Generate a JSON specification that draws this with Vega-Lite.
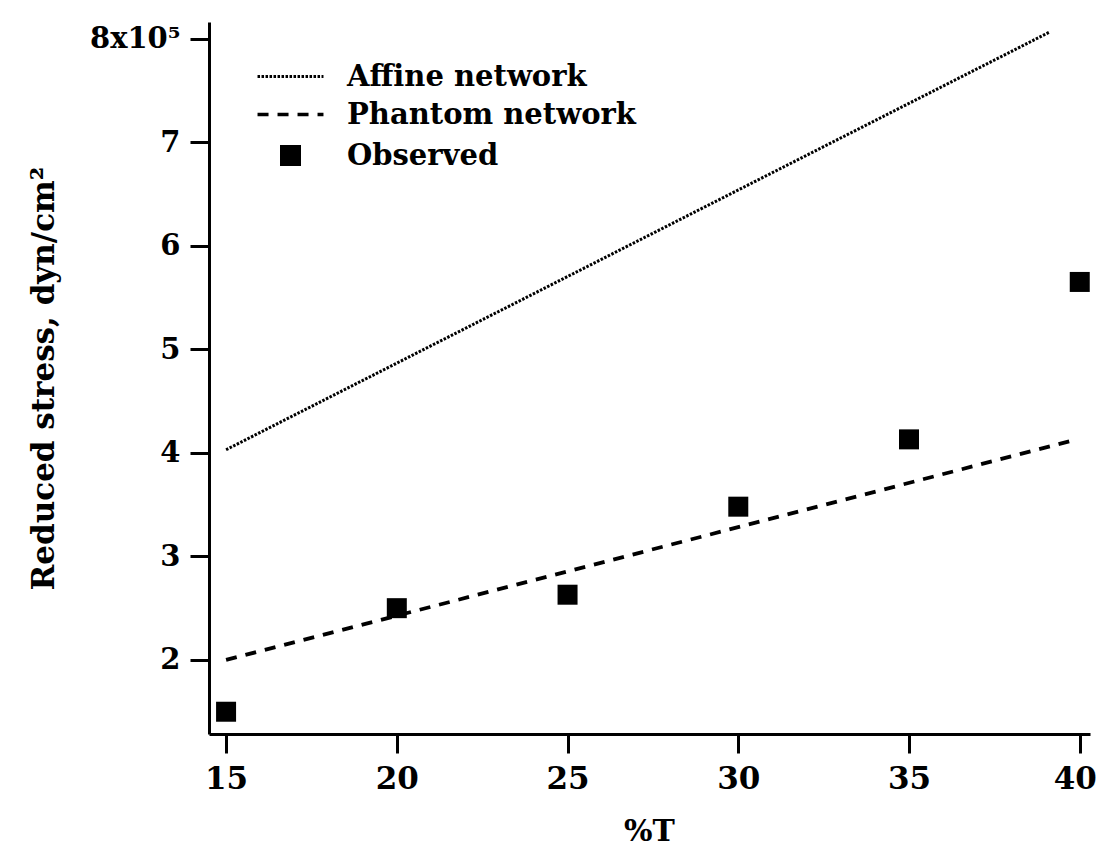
{
  "$schema": "https://vega.github.io/schema/vega-lite/v6.json",
  "width": 881,
  "height": 712,
  "autosize": {"type": "none"},
  "padding": {"left": 209, "top": 22, "right": 10, "bottom": 115},
  "background": "white",
  "config": {
    "view": {"stroke": null},
    "font": "DejaVu Serif",
    "axis": {
      "domainColor": "black",
      "domainWidth": 3,
      "tickColor": "black",
      "tickWidth": 3,
      "tickSize": 19,
      "grid": false,
      "labelFont": "DejaVu Serif",
      "labelFontWeight": "bold",
      "labelColor": "black",
      "titleFont": "DejaVu Serif",
      "titleFontWeight": "bold",
      "titleColor": "black"
    }
  },
  "datasets": {
    "lines": [
      {"T": 15, "stress": 4.03, "series": "Affine network"},
      {"T": 39.1, "stress": 8.06, "series": "Affine network"},
      {"T": 15, "stress": 2.0, "series": "Phantom network"},
      {"T": 39.8, "stress": 4.12, "series": "Phantom network"}
    ],
    "observed": [
      {"T": 15, "stress": 1.5, "series": "Observed"},
      {"T": 20, "stress": 2.5, "series": "Observed"},
      {"T": 25, "stress": 2.63, "series": "Observed"},
      {"T": 30, "stress": 3.48, "series": "Observed"},
      {"T": 35, "stress": 4.13, "series": "Observed"},
      {"T": 40, "stress": 5.65, "series": "Observed"}
    ]
  },
  "encoding": {
    "x": {
      "field": "T",
      "type": "quantitative",
      "scale": {"domain": [14.5, 40.3], "nice": false, "zero": false},
      "axis": {
        "values": [15, 20, 25, 30, 35, 40],
        "labelFontSize": 31,
        "labelPadding": 11,
        "labelFlush": false,
        "labelOffset": {"condition": {"test": "datum.value === 40", "value": -5}, "value": 0},
        "title": "%T",
        "titleFontSize": 30,
        "titleX": 440,
        "titleY": 106,
        "titleBaseline": "alphabetic"
      }
    },
    "y": {
      "field": "stress",
      "type": "quantitative",
      "scale": {"domain": [1.285, 8.16], "nice": false, "zero": false},
      "axis": {
        "values": [2, 3, 4, 5, 6, 7, 8],
        "labelExpr": "datum.value === 8 ? '8x10⁵' : datum.label",
        "labelFontSize": 29,
        "labelPadding": 10,
        "labelFlush": false,
        "title": "Reduced stress, dyn/cm²",
        "titleFontSize": 31,
        "titleAngle": -90,
        "titleX": -156,
        "titleY": 356,
        "titleAlign": "center",
        "titleBaseline": "alphabetic"
      }
    },
    "strokeDash": {
      "field": "series",
      "type": "nominal",
      "scale": {
        "domain": ["Affine network", "Phantom network", "Observed"],
        "range": [[2.5, 1.5], [11, 9], [1, 0]]
      },
      "legend": {
        "orient": "none",
        "legendX": 67,
        "legendY": 40,
        "title": null,
        "padding": 0,
        "labelFont": "DejaVu Serif",
        "labelFontSize": 29,
        "labelFontWeight": "bold",
        "labelColor": "black",
        "labelOffset": 42,
        "labelLimit": 600,
        "symbolSize": 441,
        "rowPadding": 8,
        "symbolStrokeColor": "black",
        "encode": {
          "symbols": {
            "update": {
              "shape": {"signal": "datum.value === 'Observed' ? 'square' : 'M-3.14,0H3.14'"},
              "fill": {"signal": "datum.value === 'Observed' ? 'black' : 'transparent'"},
              "stroke": {"signal": "datum.value === 'Observed' ? 'transparent' : 'black'"},
              "strokeWidth": {"signal": "datum.value === 'Affine network' ? 3 : 3.5"},
              "strokeDash": {"signal": "datum.value === 'Affine network' ? [2.5, 1.5] : (datum.value === 'Phantom network' ? [10, 8] : [1, 0])"},
              "opacity": {"value": 1}
            }
          }
        }
      }
    }
  },
  "layer": [
    {
      "data": {"name": "lines"},
      "mark": {"type": "line", "color": "black", "strokeCap": "butt"},
      "encoding": {
        "detail": {"field": "series"},
        "strokeWidth": {
          "field": "series",
          "type": "nominal",
          "scale": {"domain": ["Affine network", "Phantom network"], "range": [3, 3.8]},
          "legend": null
        }
      }
    },
    {
      "data": {"name": "observed"},
      "mark": {"type": "point", "shape": "square", "filled": true, "color": "black", "size": 400, "opacity": 1}
    }
  ]
}
